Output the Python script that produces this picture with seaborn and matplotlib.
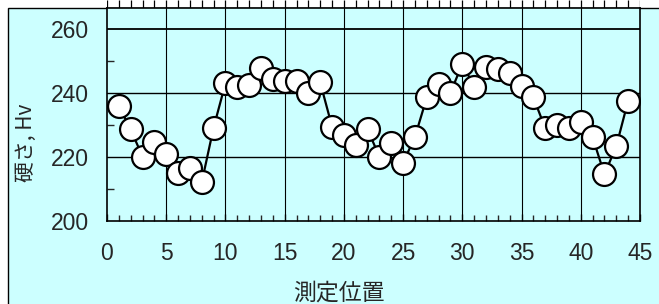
"""
Hardness profile (Hv) along the measurement positions.
"""
import matplotlib
matplotlib.use('Agg')
import matplotlib.pyplot as plt
from matplotlib.patches import Rectangle
from matplotlib.ticker import MultipleLocator
import seaborn as sns

sns.set_style('white')
plt.rcParams['font.family'] = ['Liberation Sans', 'Noto Sans CJK JP', 'DejaVu Sans']

positions = list(range(1, 45))
hardness = [236.0, 228.6, 220.1, 224.6, 220.8, 214.9, 216.5, 212.1, 229.2, 243.0,
            242.0, 242.5, 247.7, 244.4, 243.8, 243.8, 239.9, 243.3, 229.5, 226.9,
            223.8, 228.6, 220.1, 224.5, 218.2, 226.3, 238.6, 242.7, 240.1, 249.1,
            242.0, 248.0, 247.4, 246.1, 242.2, 238.6, 229.0, 230.0, 229.0, 230.8,
            226.1, 214.6, 223.4, 237.6]
x_ticks = [0, 5, 10, 15, 20, 25, 30, 35, 40, 45]
y_ticks = [200, 220, 240, 260]
x_label = '測定位置'
y_label = '硬さ, Hv'

W, H = 659, 304
BG = '#CCFFFF'

fig = plt.figure(figsize=(W / 100, H / 100), dpi=100, facecolor='white')
fig.patches.append(Rectangle((8 / W, -0.1), 1, 0.1 + 296 / H,
                             transform=fig.transFigure, facecolor=BG,
                             edgecolor='black', lw=1, zorder=-5))

# strip of ticks from the chart above (cropped)
strip = fig.add_axes([107 / W, 296 / H, 533 / W, 8 / H])
strip.set_facecolor('white')
strip.set_xlim(0, 45)
strip.set_ylim(0, 1)
strip.vlines(range(46), 0, 1, color='black', lw=0.9)
strip.axis('off')

ax = fig.add_axes([107 / W, 83 / H, 533 / W, 213 / H])
ax.set_facecolor(BG)
ax.set_xlim(0, 45)
ax.set_ylim(200, 200 + 213 / 3.2)

for x in x_ticks[1:-1]:
    ax.axvline(x, color='black', lw=0.8, zorder=1)
for y in y_ticks[1:]:
    ax.axhline(y, color='black', lw=1.0 if y < 260 else 1.3, zorder=1)

sns.lineplot(x=positions, y=hardness, ax=ax, color='black', lw=1.6,
             marker='o', markersize=16.5, markerfacecolor='white',
             markeredgecolor='black', markeredgewidth=1.6, zorder=3)

ax.set_xticks(x_ticks)
ax.set_yticks(y_ticks)
ax.xaxis.set_minor_locator(MultipleLocator(1))
ax.yaxis.set_minor_locator(MultipleLocator(10))
ax.tick_params(axis='x', which='major', direction='in', length=5, width=1,
               pad=15, labelsize=16.5, bottom=True)
ax.tick_params(axis='x', which='minor', direction='in', length=4, width=1,
               bottom=True)
ax.tick_params(axis='y', which='major', direction='in', length=0,
               pad=13, labelsize=16.5, left=True)
ax.tick_params(axis='y', which='minor', direction='in', length=5, width=1,
               left=True)
for s in ax.spines.values():
    s.set_color('black')
    s.set_linewidth(1.2)

ax.set_xlabel(x_label, fontsize=16.5, family=['Noto Sans CJK JP'])
ax.xaxis.set_label_coords(0.436, -0.282)
ax.set_ylabel(y_label, fontsize=15, family=['Noto Sans CJK JP'])
ax.yaxis.set_label_coords(-0.132, 0.365)

fig.savefig('out.png', dpi=100, facecolor='white')
